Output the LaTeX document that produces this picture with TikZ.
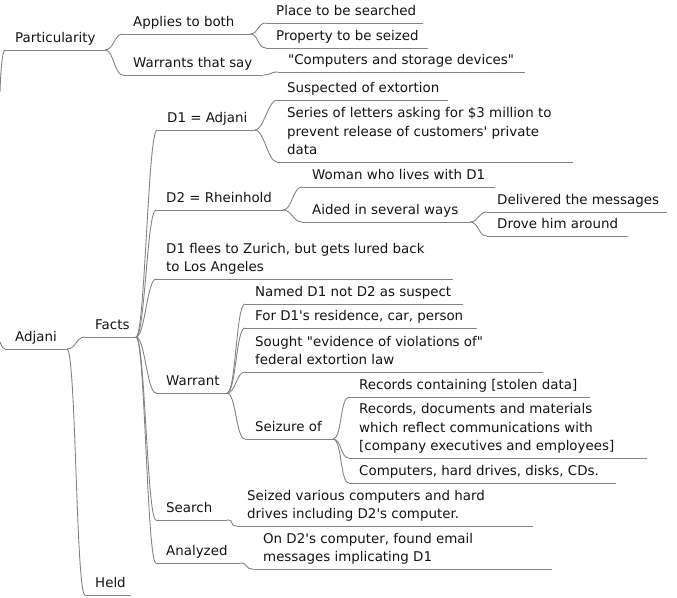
\documentclass[tikz,border=0pt]{standalone}
\usepackage{fontspec}
\newfontfamily\mapfont{DejaVu Sans}
\definecolor{lncol}{RGB}{132,132,132}
\definecolor{txtcol}{RGB}{20,20,20}
\newcommand\mmnode[5]{%
  \node[txt] (#1) at (#2,#3-7) {#5};
  \coordinate (#1-s) at (#2-10,#3);
  \coordinate (#1-e) at (#4,#3);
  \draw[ln] (#1-s) -- (#1-e);}
\newcommand\mmconn[2]{%
  \draw[ln] (#1-e) .. controls +(9,0) and +(-9,0) .. (#2-s);}
\begin{document}
\begin{tikzpicture}[x=1pt,y=-1pt,
  ln/.style={draw=lncol, line width=0.9pt},
  txt/.style={anchor=south west, inner sep=0pt, text depth=0pt, align=left,
    font=\mapfont\fontsize{13.4}{18.5}\selectfont, text=txtcol}]
\useasboundingbox (0,0) rectangle (677,597);
\mmnode{part}{15}{50}{105}{Particularity}
\mmnode{applies}{133}{34}{250}{Applies to both}
\mmnode{place}{276}{23}{423}{Place to be searched}
\mmnode{prop}{276}{48}{428}{Property to be seized}
\mmnode{warrsay}{133}{75}{263}{Warrants that say}
\mmnode{comp}{288}{72}{525}{"Computers and storage devices"}
\mmnode{adjani}{15}{349}{67}{Adjani}
\mmnode{facts}{95}{337}{136}{Facts}
\mmnode{held}{95}{595}{131}{Held}
\mmnode{d1}{167}{130}{255}{D1 = Adjani}
\mmnode{susp}{287}{100}{448}{Suspected of extortion}
\mmnode{series}{287}{162}{573}{Series of letters asking for \$3 million to\\prevent release of customers' private\\data}
\mmnode{d2}{166}{210}{283}{D2 = Rheinhold}
\mmnode{woman}{312}{187}{495}{Woman who lives with D1}
\mmnode{aided}{312}{222}{470}{Aided in several ways}
\mmnode{deliv}{497}{212}{667}{Delivered the messages}
\mmnode{drove}{497}{236}{628}{Drove him around}
\mmnode{flees}{166}{279}{453}{D1 flees to Zurich, but gets lured back\\to Los Angeles}
\mmnode{warrant}{166}{393}{227}{Warrant}
\mmnode{named}{255}{304}{463}{Named D1 not D2 as suspect}
\mmnode{ford1}{255}{328}{477}{For D1's residence, car, person}
\mmnode{sought}{255}{372}{543}{Sought "evidence of violations of"\\federal extortion law}
\mmnode{seizure}{255}{439}{333}{Seizure of}
\mmnode{rec1}{359}{397}{590}{Records containing [stolen data]}
\mmnode{rec2}{359}{458}{647}{Records, documents and materials\\which reflect communications with\\{}[company executives and employees]}
\mmnode{comps}{359}{483}{616}{Computers, hard drives, disks, CDs.}
\mmnode{search}{166}{520}{227}{Search}
\mmnode{seized}{247}{526}{533}{Seized various computers and hard\\drives including D2's computer.}
\mmnode{analyzed}{166}{563}{240}{Analyzed}
\mmnode{ond2}{263}{569}{552}{On D2's computer, found email\\messages implicating D1}
% fragments of the connectors from the root outside the picture
\coordinate (rp) at (0,92);
\coordinate (ra) at (0,342);
\draw[ln] (rp) .. controls (1,62) and (3,50) .. (part-s);
\draw[ln] (ra) .. controls (2,347) and (3,349) .. (adjani-s);
% connectors
\mmconn{part}{applies}
\mmconn{part}{warrsay}
\mmconn{applies}{place}
\mmconn{applies}{prop}
\mmconn{warrsay}{comp}
\mmconn{adjani}{facts}
\mmconn{adjani}{held}
\mmconn{facts}{d1}
\mmconn{facts}{d2}
\mmconn{facts}{flees}
\mmconn{facts}{warrant}
\mmconn{facts}{search}
\mmconn{facts}{analyzed}
\mmconn{d1}{susp}
\mmconn{d1}{series}
\mmconn{d2}{woman}
\mmconn{d2}{aided}
\mmconn{aided}{deliv}
\mmconn{aided}{drove}
\mmconn{warrant}{named}
\mmconn{warrant}{ford1}
\mmconn{warrant}{sought}
\mmconn{warrant}{seizure}
\mmconn{seizure}{rec1}
\mmconn{seizure}{rec2}
\mmconn{seizure}{comps}
\mmconn{search}{seized}
\mmconn{analyzed}{ond2}
\end{tikzpicture}
\end{document}
